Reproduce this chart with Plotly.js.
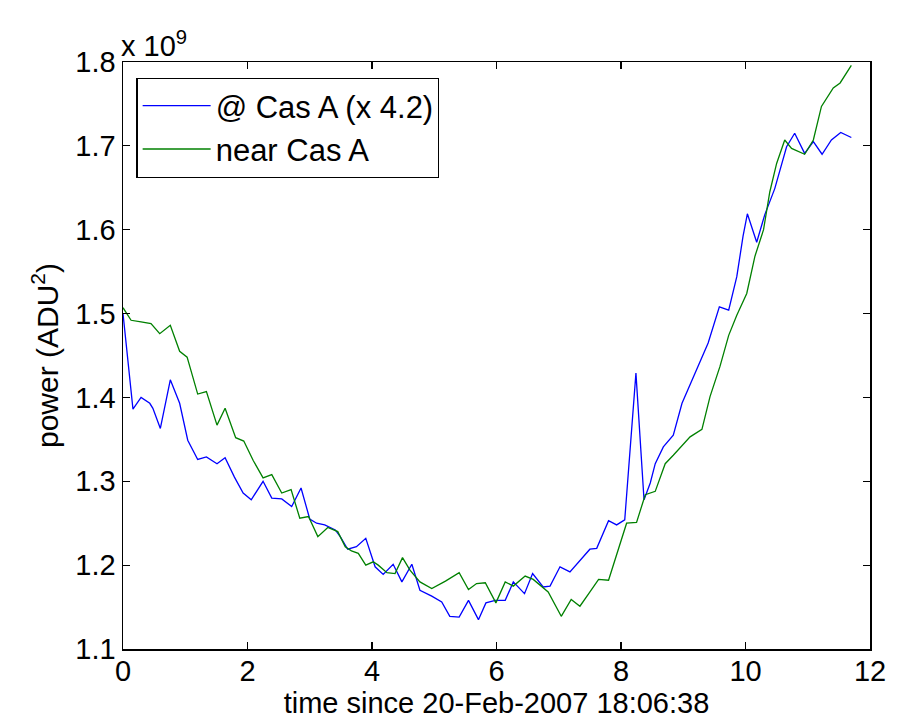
<!DOCTYPE html>
<html>
<head>
<meta charset="utf-8">
<script src="https://cdn.plot.ly/plotly-3.0.1.min.js"></script>
<style>html,body{margin:0;padding:0;background:#fff;}#chart{width:897px;height:720px;}</style>
</head>
<body>
<div id="chart"></div>
<script>
// time (hours) and power (units of 1e9 ADU^2)
const casATime = [0, 0.16, 0.29, 0.43, 0.48, 0.60, 0.76, 0.91, 1.04, 1.20, 1.34, 1.51, 1.64, 1.79, 1.93, 2.06, 2.25, 2.39, 2.55, 2.71, 2.86, 3.00, 3.11, 3.24, 3.41, 3.49, 3.61, 3.75, 3.90, 4.05, 4.18, 4.34, 4.48, 4.64, 4.77, 4.96, 5.12, 5.25, 5.40, 5.55, 5.71, 5.83, 5.98, 6.14, 6.27, 6.45, 6.58, 6.75, 6.86, 7.02, 7.18, 7.34, 7.50, 7.61, 7.80, 7.93, 8.06, 8.24, 8.37, 8.47, 8.55, 8.68, 8.84, 8.98, 9.22, 9.40, 9.58, 9.73, 9.86, 9.96, 10.03, 10.18, 10.31, 10.47, 10.66, 10.79, 10.95, 11.09, 11.23, 11.38, 11.53, 11.70];
const casAPower = [1.500, 1.386, 1.400, 1.393, 1.387, 1.363, 1.421, 1.393, 1.349, 1.326, 1.329, 1.321, 1.328, 1.305, 1.286, 1.278, 1.300, 1.280, 1.279, 1.270, 1.292, 1.255, 1.250, 1.248, 1.242, 1.234, 1.219, 1.222, 1.232, 1.198, 1.189, 1.201, 1.180, 1.201, 1.170, 1.163, 1.156, 1.139, 1.138, 1.158, 1.135, 1.155, 1.158, 1.158, 1.180, 1.166, 1.190, 1.174, 1.175, 1.198, 1.192, 1.205, 1.219, 1.220, 1.253, 1.248, 1.254, 1.429, 1.278, 1.298, 1.321, 1.341, 1.355, 1.393, 1.433, 1.465, 1.508, 1.504, 1.544, 1.592, 1.619, 1.585, 1.618, 1.649, 1.699, 1.715, 1.691, 1.705, 1.690, 1.707, 1.716, 1.710];

const nearTime = [0, 0.13, 0.29, 0.45, 0.59, 0.76, 0.91, 1.03, 1.20, 1.34, 1.51, 1.64, 1.81, 1.94, 2.09, 2.25, 2.39, 2.55, 2.70, 2.84, 2.98, 3.13, 3.29, 3.45, 3.57, 3.67, 3.78, 3.90, 4.02, 4.10, 4.24, 4.37, 4.49, 4.61, 4.77, 4.96, 5.18, 5.40, 5.55, 5.68, 5.82, 5.99, 6.14, 6.27, 6.46, 6.59, 6.83, 7.04, 7.20, 7.34, 7.49, 7.64, 7.80, 7.96, 8.09, 8.25, 8.39, 8.55, 8.71, 8.84, 8.97, 9.11, 9.30, 9.43, 9.59, 9.73, 9.86, 10.02, 10.15, 10.29, 10.39, 10.50, 10.63, 10.74, 10.95, 11.09, 11.22, 11.41, 11.52, 11.70];
const nearPower = [1.507, 1.492, 1.490, 1.488, 1.476, 1.486, 1.455, 1.448, 1.404, 1.407, 1.367, 1.387, 1.352, 1.348, 1.325, 1.304, 1.308, 1.286, 1.290, 1.256, 1.258, 1.234, 1.245, 1.240, 1.222, 1.217, 1.214, 1.200, 1.204, 1.200, 1.191, 1.190, 1.209, 1.194, 1.180, 1.172, 1.181, 1.191, 1.171, 1.178, 1.179, 1.155, 1.180, 1.175, 1.187, 1.183, 1.168, 1.139, 1.159, 1.151, 1.167, 1.183, 1.182, 1.218, 1.250, 1.251, 1.284, 1.288, 1.321, 1.331, 1.342, 1.353, 1.362, 1.401, 1.437, 1.474, 1.498, 1.524, 1.568, 1.600, 1.645, 1.679, 1.707, 1.697, 1.690, 1.707, 1.747, 1.769, 1.775, 1.796];

const seriesNames = ['@ Cas A (x 4.2)', 'near Cas A'];
const xTicks = [0, 2, 4, 6, 8, 10, 12];
const yTicks = [1.1, 1.2, 1.3, 1.4, 1.5, 1.6, 1.7, 1.8];

const FONT = 'Liberation Sans, Arial, sans-serif';

const traces = [
  {x: casATime, y: casAPower, name: seriesNames[0], type: 'scatter', mode: 'lines',
   line: {color: '#0000ff', width: 1.3}},
  {x: nearTime, y: nearPower, name: seriesNames[1], type: 'scatter', mode: 'lines',
   line: {color: '#008000', width: 1.3}}
];

const axisCommon = {
  showgrid: false, zeroline: false, showline: true, mirror: 'ticks',
  linecolor: '#000', linewidth: 1.5, ticks: 'inside', ticklen: 7, tickcolor: '#000', tickwidth: 1.2,
  tickfont: {family: FONT, size: 29, color: '#000'}, automargin: false
};

const layout = {
  width: 897, height: 720,
  margin: {l: 123, r: 27, t: 62, b: 71},
  paper_bgcolor: '#fff', plot_bgcolor: '#fff',
  font: {family: FONT, color: '#000'},
  showlegend: true,
  legend: {
    x: 0.018, y: 0.973, xanchor: 'left', yanchor: 'top',
    bgcolor: '#fff', bordercolor: '#000', borderwidth: 1.2,
    font: {family: FONT, size: 31, color: '#000'},
    itemwidth: 68, tracegroupgap: 0
  },
  xaxis: Object.assign({}, axisCommon, {
    range: [0, 12], tickvals: xTicks, ticktext: xTicks.map(String),
    ticklabelstandoff: -4,
    title: {text: 'time since 20-Feb-2007 18:06:38', font: {family: FONT, size: 29, color: '#000'}, standoff: 0}
  }),
  yaxis: Object.assign({}, axisCommon, {
    range: [1.1, 1.8], tickvals: yTicks, ticktext: yTicks.map(v => v.toFixed(1)),
    title: {text: 'power (ADU<sup>2</sup>)', font: {family: FONT, size: 30, color: '#000'}, standoff: 8}
  }),
  annotations: [
    {xref: 'paper', yref: 'paper', x: 0, y: 1, xanchor: 'left', yanchor: 'bottom',
     text: 'x 10<sup>9</sup>', showarrow: false, font: {family: FONT, size: 29, color: '#000'}, yshift: -2, xshift: -4}
  ]
};

Plotly.newPlot('chart', traces, layout, {staticPlot: true, displayModeBar: false});
</script>
</body>
</html>
